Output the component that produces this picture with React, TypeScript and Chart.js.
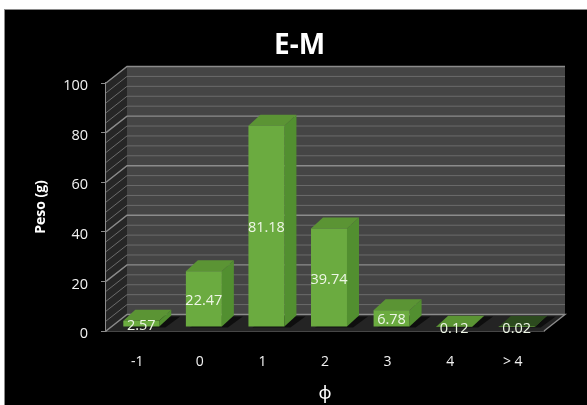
import React, { useEffect, useRef } from "react";
import { Chart, registerables } from "chart.js";

Chart.register(...registerables);

const categories = ["-1", "0", "1", "2", "3", "4", "> 4"];
const pesoValues = [2.57, 22.47, 81.18, 39.74, 6.78, 0.12, 0.02];
const yTicks = [0, 20, 40, 60, 80, 100];
const chartTitle = "E-M";

const WALL_DX = 21;
const WALL_DY = 16.5;
const BAR_DX = 12;
const BAR_DY = 11;
const SHIFT_X = 4;
const SHIFT_Y = 4;
const FONT = '"Open Sans", "Noto Sans", sans-serif';

function poly(ctx: CanvasRenderingContext2D, pts: number[][], fill?: string, stroke?: string, lw = 1) {
  ctx.beginPath();
  pts.forEach((p, i) => (i ? ctx.lineTo(p[0], p[1]) : ctx.moveTo(p[0], p[1])));
  ctx.closePath();
  if (fill) { ctx.fillStyle = fill; ctx.fill(); }
  if (stroke) { ctx.strokeStyle = stroke; ctx.lineWidth = lw; ctx.stroke(); }
}

const scenePlugin = {
  id: "scene3d",
  beforeDraw(chart: any) {
    const { ctx, width, height } = chart;
    ctx.save();
    ctx.fillStyle = "#fff";
    ctx.fillRect(0, 0, width, height);
    ctx.fillStyle = "#8a8a8a";
    ctx.fillRect(4, 9, width - 4, height - 9);
    ctx.fillStyle = "#000";
    ctx.fillRect(5, 10, width - 5, height - 10);
    ctx.restore();
  },
  beforeDatasetsDraw(chart: any) {
    const { ctx, chartArea: a, scales } = chart;
    const y = scales.y;
    const bL = a.left + WALL_DX, bR = a.right + WALL_DX;
    ctx.save();
    poly(ctx, [[bL, a.top - WALL_DY], [bR, a.top - WALL_DY], [bR, a.bottom - WALL_DY], [bL, a.bottom - WALL_DY]], "#454545");
    poly(ctx, [[a.left, a.bottom], [a.left, a.top], [bL, a.top - WALL_DY], [bL, a.bottom - WALL_DY]], "#262626");
    poly(ctx, [[a.left, a.bottom], [a.right, a.bottom], [bR, a.bottom - WALL_DY], [bL, a.bottom - WALL_DY]], "#242424");
    for (let v = 0; v <= 100; v += 4) {
      const major = v % 20 === 0;
      const py = y.getPixelForValue(v);
      ctx.strokeStyle = major ? "#8c8c8c" : "#6b6b6b";
      ctx.lineWidth = major ? 1.4 : 1;
      ctx.beginPath();
      ctx.moveTo(a.left, py);
      ctx.lineTo(bL, py - WALL_DY);
      ctx.lineTo(bR, py - WALL_DY);
      if (v === 0) ctx.lineTo(a.right, a.bottom);
      ctx.stroke();
    }
    const meta = chart.getDatasetMeta(0);
    meta.data.forEach((bar: any, i: number) => {
      const half = bar.width / 2;
      const l = bar.x - half + SHIFT_X, r = bar.x + half + SHIFT_X;
      const t = bar.y - SHIFT_Y, b = bar.base - SHIFT_Y;
      poly(ctx, [[l + 4, b + 1], [r + 6, b + 1], [r + BAR_DX + 9, b - BAR_DY + 1], [l + BAR_DX + 9, b - BAR_DY + 1]], "#0e0e0e");
      const faint = pesoValues[i] < 0.05;
      poly(ctx, [[r, t], [r + BAR_DX, t - BAR_DY], [r + BAR_DX, b - BAR_DY], [r, b]], "#528f30");
      poly(ctx, [[l, t], [r, t], [r + BAR_DX, t - BAR_DY], [l + BAR_DX, t - BAR_DY]], faint ? "#2c4a1e" : "#5b9434");
    });
    ctx.restore();
    ctx.save();
    ctx.translate(SHIFT_X, -SHIFT_Y);
  },
  afterDatasetsDraw(chart: any) {
    const { ctx } = chart;
    ctx.restore();
    const meta = chart.getDatasetMeta(0);
    ctx.save();
    ctx.font = `14.5px ${FONT}`;
    ctx.fillStyle = "#eef6e6";
    ctx.textAlign = "center";
    ctx.textBaseline = "middle";
    meta.data.forEach((bar: any, i: number) => {
      const mid = (bar.y + bar.base) / 2 - SHIFT_Y + 2;
      ctx.fillText(pesoValues[i].toFixed(2), bar.x + SHIFT_X, mid);
    });
    ctx.font = `bold 28px ${FONT}`;
    ctx.fillStyle = "#fff";
    ctx.fillText(chartTitle, 299.5, 46);
    ctx.restore();
  },
};

export default function App() {
  const ref = useRef<HTMLCanvasElement>(null);
  useEffect(() => {
    document.body.style.margin = "0";
    document.body.style.background = "#000";
    const chart = new Chart(ref.current!, {
      type: "bar",
      data: {
        labels: categories,
        datasets: [
          {
            data: pesoValues,
            backgroundColor: "#6bab40",
            barPercentage: 0.575,
            categoryPercentage: 1,
            clip: false,
          } as any,
        ],
      },
      plugins: [scenePlugin],
      options: {
        animation: false,
        responsive: false,
        maintainAspectRatio: false,
        layout: { padding: { left: 0, right: 43, top: 83, bottom: 0 } },
        plugins: {
          legend: { display: false },
          tooltip: { enabled: false },
          title: { display: false },
        },
        scales: {
          x: {
            afterFit: (s: any) => { s.height = 74; },
            grid: { display: false },
            border: { display: true, color: "#8c8c8c", width: 1.5 },
            ticks: { color: "#f2f2f2", font: { family: FONT, size: 14 }, padding: 15 },
            title: {
              display: true,
              text: "ϕ",
              color: "#fff",
              font: { family: FONT, size: 18 },
              padding: { top: 0, bottom: 0 },
            },
          },
          y: {
            min: 0,
            max: 100,
            afterFit: (s: any) => { s.width = 106; },
            afterBuildTicks: (s: any) => { s.ticks = yTicks.map((value) => ({ value })); },
            grid: { drawOnChartArea: false, color: "#8c8c8c", tickLength: 5 },
            border: { display: true, color: "#8c8c8c", width: 1.5 },
            ticks: { color: "#f2f2f2", font: { family: FONT, size: 14.5 }, padding: 13, labelOffset: 3 },
            title: {
              display: true,
              text: "Peso (g)",
              color: "#fff",
              font: { family: FONT, size: 14, weight: "bold" },
              padding: { top: 33, bottom: 0 },
            },
          },
        },
      },
    } as any);
    return () => chart.destroy();
  }, []);
  return <canvas ref={ref} width={587} height={405} style={{ display: "block", filter: "blur(0.4px)" }} />;
}
